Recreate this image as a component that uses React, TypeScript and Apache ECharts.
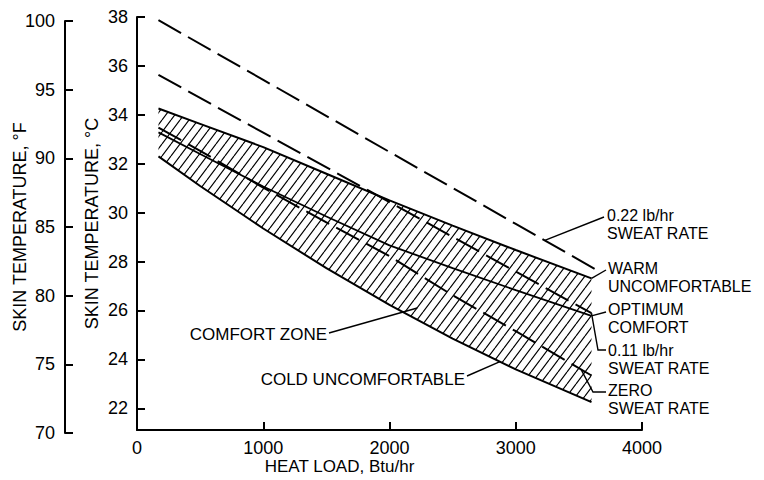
import React, { useEffect, useRef } from 'react';
import * as echarts from 'echarts';

// ---- data ----
const heatLoad = [170, 500, 1000, 1500, 2000, 2500, 3000, 3600];
const warmUncomfortable = [34.26, 33.63, 32.68, 31.59, 30.5, 29.47, 28.47, 27.31];
const coldUncomfortable = [32.3, 31.09, 29.35, 27.73, 26.23, 24.85, 23.59, 22.25];
const optimumComfort = [33.28, 32.4, 31.07, 29.84, 28.66, 27.73, 26.83, 25.78];
const zeroSweatRate = [33.48, 32.53, 31.02, 29.6, 28.22, 26.62, 25.15, 23.34];
const sweat011Load = [170, 1000, 2000, 3000, 3600];
const sweat011 = [35.63, 33.27, 30.43, 27.59, 25.89];
const sweat022Load = [170, 1000, 2000, 3000, 3650];
const sweat022 = [37.87, 35.43, 32.48, 29.54, 27.63];

const xTicks = [0, 1000, 2000, 3000, 4000];
const celsiusTicks = [22, 24, 26, 28, 30, 32, 34, 36, 38];
const fahrenheitTicks = [70, 75, 80, 85, 90, 95, 100];
const C_MIN = ((70 - 32) * 5) / 9;
const C_MAX = 38;

const FONT = "'Liberation Sans', Arial, sans-serif";

const pairs = (xs: number[], ys: number[]) => xs.map((x, i) => [x, ys[i]]);
const interp = (xs: number[], ys: number[], x: number) => {
  for (let i = 0; i < xs.length - 1; i++) {
    if (x >= xs[i] && x <= xs[i + 1]) {
      const t = (x - xs[i]) / (xs[i + 1] - xs[i]);
      return ys[i] + t * (ys[i + 1] - ys[i]);
    }
  }
  return ys[ys.length - 1];
};

const hatchSvg =
  "<svg xmlns='http://www.w3.org/2000/svg' width='9' height='12'><path d='M-9 12L0 0M0 12L9 0M9 12L18 0' stroke='black' stroke-width='1.2' fill='none'/></svg>";
const hatchPattern: any = {
  image: 'data:image/svg+xml;charset=utf-8,' + encodeURIComponent(hatchSvg),
  repeat: 'repeat',
  imageWidth: 9,
  imageHeight: 12,
};

const axisLineStyle = { color: '#000', width: 2 };
const labelStyle = { fontSize: 18, fontFamily: FONT, color: '#000', formatter: (v: number) => String(v) };
const yNameStyle = { fontSize: 18, fontFamily: FONT, color: '#000' };

export default function App() {
  const ref = useRef<HTMLDivElement>(null);
  useEffect(() => {
    document.body.style.margin = '0';
    const chart = echarts.init(ref.current!, null, { renderer: 'svg' });
    const lineBase = {
      type: 'line',
      xAxisIndex: 0,
      yAxisIndex: 0,
      symbol: 'none',
      showSymbol: false,
      silent: true,
      z: 3,
    };
    const option: any = {
      animation: false,
      backgroundColor: '#fff',
      grid: [
        { left: 137, right: 122, top: 17, bottom: 47 },
        { left: 65, top: 21, bottom: 47, width: 1 },
      ],
      xAxis: [
        {
          type: 'value',
          gridIndex: 0,
          min: 0,
          max: 4000,
          interval: 1000,
          name: 'HEAT LOAD, Btu/hr',
          nameLocation: 'middle',
          nameGap: 28,
          nameMoveOverlap: false,
          nameTextStyle: { fontSize: 17, fontFamily: FONT, color: '#000', padding: [0, 100, 0, 0] },
          axisLine: { show: true, onZero: false, lineStyle: axisLineStyle },
          axisTick: { show: true, inside: true, length: 8, lineStyle: axisLineStyle, customValues: xTicks },
          axisLabel: { ...labelStyle, margin: 9, customValues: xTicks },
          splitLine: { show: false },
        },
        { type: 'value', gridIndex: 1, min: 0, max: 1, show: false },
      ],
      yAxis: [
        {
          type: 'value',
          gridIndex: 0,
          min: C_MIN,
          max: C_MAX,
          name: 'SKIN TEMPERATURE, °C',
          nameLocation: 'middle',
          nameRotate: 90,
          nameGap: 36,
          nameMoveOverlap: false,
          nameTextStyle: yNameStyle,
          axisLine: { show: true, onZero: false, lineStyle: axisLineStyle },
          axisTick: { show: true, inside: true, length: 8, lineStyle: axisLineStyle, customValues: celsiusTicks },
          axisLabel: { ...labelStyle, margin: 9, customValues: celsiusTicks },
          splitLine: { show: false },
        },
        {
          type: 'value',
          gridIndex: 1,
          min: 70,
          max: 100,
          interval: 5,
          name: 'SKIN TEMPERATURE, °F',
          nameLocation: 'middle',
          nameRotate: 90,
          nameGap: 36,
          nameMoveOverlap: false,
          nameTextStyle: yNameStyle,
          axisLine: { show: true, onZero: false, lineStyle: axisLineStyle },
          axisTick: { show: true, inside: true, length: 8, lineStyle: axisLineStyle, customValues: fahrenheitTicks },
          axisLabel: { ...labelStyle, margin: 10, customValues: fahrenheitTicks },
          splitLine: { show: false },
        },
      ],
      series: [
        {
          type: 'custom',
          xAxisIndex: 0,
          yAxisIndex: 0,
          silent: true,
          z: 1,
          data: [[heatLoad[0], warmUncomfortable[0]]],
          encode: { x: 0, y: 1 },
          renderItem: (params: any, api: any) => {
            const pts: number[][] = [];
            heatLoad.forEach((x, i) => pts.push(api.coord([x, warmUncomfortable[i]])));
            for (let i = heatLoad.length - 1; i >= 0; i--) pts.push(api.coord([heatLoad[i], coldUncomfortable[i]]));
            return {
              type: 'polygon',
              shape: { points: pts },
              style: { fill: hatchPattern, stroke: null },
            };
          },
        },
        { ...lineBase, name: 'Warm uncomfortable', data: pairs(heatLoad, warmUncomfortable), lineStyle: { color: '#000', width: 2 } },
        { ...lineBase, name: 'Cold uncomfortable', data: pairs(heatLoad, coldUncomfortable), lineStyle: { color: '#000', width: 2 } },
        { ...lineBase, name: 'Optimum comfort', data: pairs(heatLoad, optimumComfort), lineStyle: { color: '#000', width: 1.8 } },
        { ...lineBase, name: 'Zero sweat rate', data: pairs(heatLoad, zeroSweatRate), lineStyle: { color: '#000', width: 2, type: [26, 8] } },
        { ...lineBase, name: '0.11 lb/hr', data: pairs(sweat011Load, sweat011), lineStyle: { color: '#000', width: 2, type: [26, 8] } },
        { ...lineBase, name: '0.22 lb/hr', data: pairs(sweat022Load, sweat022), lineStyle: { color: '#000', width: 2, type: [26, 8] } },
      ],
    };
    chart.setOption(option);

    const px = (x: number, y: number) => chart.convertToPixel({ xAxisIndex: 0, yAxisIndex: 0 }, [x, y]) as number[];
    const last = (a: number[]) => a[a.length - 1];

    const notes = [
      { lines: ['0.22 lb/hr', 'SWEAT RATE'], x: 607, y: 215, size: 16, align: 'left', leader: [[604, 217]], anchor: px(3230, interp(sweat022Load, sweat022, 3230)) },
      { lines: ['WARM', 'UNCOMFORTABLE'], x: 608, y: 268, size: 16, align: 'left', leader: [[606, 270]], anchor: px(last(heatLoad), last(warmUncomfortable)) },
      { lines: ['OPTIMUM', 'COMFORT'], x: 608, y: 309, size: 16, align: 'left', leader: [[606, 312]], anchor: px(last(heatLoad), last(optimumComfort)) },
      { lines: ['0.11 lb/hr', 'SWEAT RATE'], x: 608, y: 350, size: 16, align: 'left', leader: [[606, 350], [598, 350]], anchor: px(last(sweat011Load), last(sweat011)) },
      { lines: ['ZERO', 'SWEAT RATE'], x: 608, y: 390, size: 16, align: 'left', leader: [[606, 392], [593, 392]], anchor: px(3517, interp(heatLoad, zeroSweatRate, 3517)) },
      { lines: ['COMFORT ZONE'], x: 327, y: 334, size: 17, align: 'right', leader: [[329, 333]], anchor: px(2220, 26.1) },
      { lines: ['COLD UNCOMFORTABLE'], x: 465, y: 379, size: 17, align: 'right', leader: [[467, 376]], anchor: px(2875, interp(heatLoad, coldUncomfortable, 2875)) },
    ];

    const graphic: any[] = [];
    notes.forEach((n) => {
      n.lines.forEach((t, i) => {
        graphic.push({
          type: 'text',
          z: 10,
          silent: true,
          style: {
            text: t,
            x: n.x,
            y: n.y + i * 18,
            align: n.align,
            verticalAlign: 'middle',
            font: `${n.size}px ${FONT}`,
            fill: '#000',
          },
        });
      });
      graphic.push({
        type: 'polyline',
        z: 10,
        silent: true,
        shape: { points: [...n.leader, n.anchor] },
        style: { stroke: '#000', lineWidth: 1.4, fill: null },
      });
    });
    chart.setOption({ graphic });

    return () => chart.dispose();
  }, []);
  return <div ref={ref} style={{ position: 'absolute', left: 0, top: 0, width: 764, height: 480, background: '#fff' }} />;
}
